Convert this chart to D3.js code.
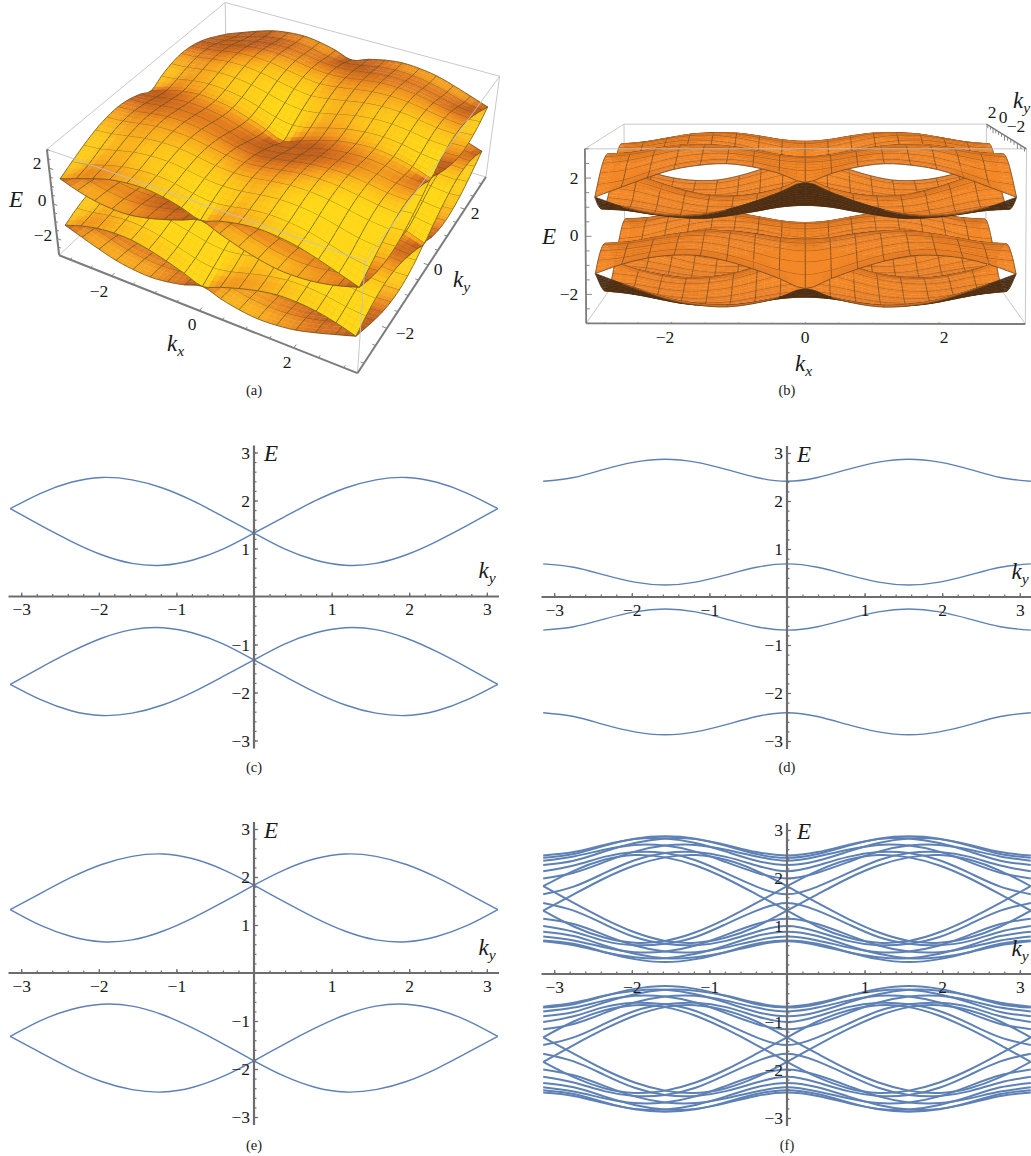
<!DOCTYPE html>
<html><head><meta charset="utf-8">
<script src="https://cdn.jsdelivr.net/npm/d3@7"></script>
<style>html,body{margin:0;padding:0;background:#fff}svg{display:block}svg text{font-family:"Liberation Serif","Times New Roman",serif !important}</style>
</head><body><div id="chart"></div>
<script>
// ---------- data ----------
const kyKnots=[-3.1416,-2.7489,-2.3562,-1.9635,-1.5708,-1.1781,-0.7854,-0.3927,0,0.3927,0.7854,1.1781,1.5708,1.9635,2.3562,2.7489,3.1416];
// panel (c): the two curves of the upper band
const cCurveA=[1.83,2.15,2.38,2.48,2.43,2.26,1.99,1.66,1.32,0.99,0.76,0.65,0.69,0.87,1.15,1.48,1.83];
const cCurveB=[1.83,1.48,1.15,0.87,0.69,0.65,0.76,0.99,1.32,1.66,1.99,2.26,2.43,2.48,2.38,2.15,1.83];
// panel (d)
const dCurveTop=[2.41,2.49,2.66,2.81,2.87,2.81,2.66,2.49,2.41,2.49,2.66,2.81,2.87,2.81,2.66,2.49,2.41];
const dCurveLow=[0.69,0.62,0.46,0.31,0.25,0.31,0.46,0.62,0.69,0.62,0.46,0.31,0.25,0.31,0.46,0.62,0.69];
// panel (e)
const eCurveA=[1.32,1.66,1.99,2.26,2.43,2.48,2.38,2.15,1.83,1.48,1.15,0.87,0.69,0.65,0.76,0.99,1.32];
const eCurveB=[1.32,0.99,0.76,0.65,0.69,0.87,1.15,1.48,1.83,2.15,2.38,2.48,2.43,2.26,1.99,1.66,1.32];
// panel (f): remaining upper / lower branches, ky from -pi to 0 (mirror images for ky>0)
const fUpper=[
[2.14,2.26,2.44,2.54,2.52,2.37,2.10,1.82,1.66],
[2.36,2.45,2.59,2.69,2.675,2.55,2.33,2.11,1.99],
[2.47,2.54,2.69,2.81,2.825,2.73,2.55,2.36,2.27],
[2.42,2.50,2.67,2.82,2.87,2.82,2.67,2.50,2.42],
[2.27,2.36,2.55,2.73,2.825,2.81,2.69,2.54,2.47],
[1.99,2.11,2.33,2.55,2.675,2.69,2.59,2.45,2.36],
[1.66,1.82,2.10,2.37,2.52,2.54,2.44,2.26,2.14]];
const fLower=[
[1.48,1.32,1.04,0.77,0.63,0.60,0.69,0.88,1.00],
[1.15,1.04,0.815,0.595,0.47,0.455,0.555,0.70,0.78],
[0.88,0.79,0.595,0.42,0.33,0.35,0.455,0.60,0.68],
[0.70,0.63,0.46,0.31,0.25,0.31,0.46,0.63,0.70],
[0.68,0.60,0.455,0.35,0.33,0.42,0.595,0.79,0.88],
[0.78,0.70,0.555,0.455,0.47,0.595,0.815,1.04,1.15],
[1.00,0.88,0.69,0.60,0.63,0.77,1.04,1.32,1.48]];
const xTickLabels=[-3,-2,-1,1,2,3];
const yTickLabels=[-3,-2,-1,1,2,3];
const tickLabels3D=[-2,0,2];

// ---------- page ----------
const W=1031,H=1156;
const svg=d3.select('#chart').append('svg').attr('width',W).attr('height',H).attr('viewBox',[0,0,W,H]);
const AXIS='#6d6d6d',LINE='#5E81B5';
const minus=v=>String(v).replace('-','\u2212');
function subLabel(g,x,y,base,sub,size){
  const t=g.append('text').attr('x',x).attr('y',y).attr('font-size',size||23).attr('font-style','italic');
  t.append('tspan').text(base);
  t.append('tspan').attr('font-size',(size||23)*0.68).attr('dy',size?size*0.24:5).text(sub);
}
function caption(x,y,s){svg.append('text').attr('x',x).attr('y',y).attr('text-anchor','middle').attr('font-size',14.5).text(s);}

// ---------- 2D panels ----------
function panel2D(cx,cy,curves,cap,capY,lw){
  const g=svg.append('g');
  const x=d3.scaleLinear().domain([-3.1416,3.1416]).range([cx-243.8,cx+243.8]);
  const y=d3.scaleLinear().domain([-3,3]).range([cy+144,cy-144]);
  const line=d3.line().x(d=>x(d[0])).y(d=>y(d[1])).curve(d3.curveNatural);
  g.append('g').selectAll('path').data(curves).join('path')
    .attr('d',c=>line(c.k.map((k,i)=>[k,c.e[i]]))).attr('fill','none').attr('stroke',LINE).attr('stroke-width',lw||1.4);
  const xMinor=d3.range(-3.2,3.21,0.2).map(v=>+v.toFixed(1)).filter(v=>Math.abs(v)>0.01&&Math.abs(v)<=3.15);
  const yMinor=d3.range(-3,3.01,0.2).map(v=>+v.toFixed(1)).filter(v=>Math.abs(v)>0.01);
  const ax=g.append('g').attr('transform',`translate(0,${cy})`);
  ax.call(d3.axisBottom(x).tickValues(xMinor).tickSize(-2.5).tickFormat(''));
  ax.selectAll('.domain').remove();
  const ax2=g.append('g').attr('transform',`translate(0,${cy})`);
  ax2.call(d3.axisBottom(x).tickValues(xTickLabels).tickSize(-4).tickPadding(0).tickFormat(minus));
  ax2.selectAll('.domain').remove();
  ax2.selectAll('text').attr('y',18.5).attr('dy',null).attr('font-size',17.5);
  const ay=g.append('g').attr('transform',`translate(${cx},0)`);
  ay.call(d3.axisRight(y).tickValues(yMinor).tickSize(2.5).tickFormat(''));
  ay.selectAll('.domain').remove();
  const ay2=g.append('g').attr('transform',`translate(${cx},0)`);
  ay2.call(d3.axisRight(y).tickValues(yTickLabels).tickSize(4).tickFormat(minus));
  ay2.selectAll('.domain').remove();
  ay2.selectAll('text').attr('x',-4).attr('dy','0.33em').attr('text-anchor','end').attr('font-size',17.5);
  g.selectAll('.tick line').attr('stroke',AXIS).attr('stroke-width',1.2);
  g.append('line').attr('x1',cx-245.5).attr('x2',cx+245).attr('y1',cy).attr('y2',cy).attr('stroke',AXIS).attr('stroke-width',2.2);
  g.append('line').attr('x1',cx).attr('x2',cx).attr('y1',cy-151).attr('y2',cy+152).attr('stroke',AXIS).attr('stroke-width',2.2);
  g.append('text').attr('x',cx+10).attr('y',cy-135.5).attr('font-size',23).attr('font-style','italic').text('E');
  subLabel(g,cx+224.5,cy-18.5,'k','y');
  caption(cx,capY,cap);
}
const both=(arrs,k)=>arrs.flatMap(e=>[{k,e},{k,e:e.map(v=>-v)}]);
const mirror=r=>r.concat(r.slice(0,8).reverse());
panel2D(254,596.5,both([cCurveA,cCurveB],kyKnots),'(c)',772);
panel2D(787,597,both([dCurveTop,dCurveLow],kyKnots),'(d)',772);
panel2D(254,973,both([eCurveA,eCurveB],kyKnots),'(e)',1150);
panel2D(787,974,both([cCurveA,cCurveB,eCurveA,eCurveB].concat(fUpper.map(mirror),fLower.map(mirror)),kyKnots),'(f)',1150,2);

// ---------- 3D panels ----------
function fitCamera(pts){ // least-squares projective camera from corner correspondences
  const A=Array.from({length:11},()=>new Array(12).fill(0));
  const addEq=(row,rhs)=>{for(let i=0;i<11;i++){for(let j=0;j<11;j++)A[i][j]+=row[i]*row[j];A[i][11]+=row[i]*rhs;}};
  pts.forEach(([X,Y,Z,sx,sy])=>{
    addEq([X,Y,Z,1,0,0,0,0,-sx*X,-sx*Y,-sx*Z],sx);
    addEq([0,0,0,0,X,Y,Z,1,-sy*X,-sy*Y,-sy*Z],sy);
  });
  for(let c=0;c<11;c++){
    let p=c;for(let r=c+1;r<11;r++)if(Math.abs(A[r][c])>Math.abs(A[p][c]))p=r;
    [A[c],A[p]]=[A[p],A[c]];
    for(let r=0;r<11;r++){if(r===c)continue;const f=A[r][c]/A[c][c];for(let j=c;j<12;j++)A[r][j]-=f*A[c][j];}
  }
  const q=A.map((r,i)=>r[11]/r[i]);
  return (X,Y,Z)=>{
    const D=q[8]*X+q[9]*Y+q[10]*Z+1;
    return [(q[0]*X+q[1]*Y+q[2]*Z+q[3])/D,(q[4]*X+q[5]*Y+q[6]*Z+q[7])/D,D];
  };
}
function catmull(a,pos){
  const n=a.length,i=Math.min(Math.floor(pos),n-2),t=pos-i;
  const p1=a[i],p2=a[i+1],p0=i>0?a[i-1]:2*p1-p2,p3=i+2<n?a[i+2]:2*p2-p1;
  return 0.5*((2*p1)+(-p0+p2)*t+(2*p0-5*p1+4*p2-p3)*t*t+(-p0+3*p1-3*p2+p3)*t*t*t);
}
function sheet(rowAt){ // 17 x 17 grid: column = kx knot, row = ky knot
  return d3.range(17).map(i=>rowAt(Math.abs(i-8)));
}
const upperRow=t=>t===0?cCurveA.map((v,j)=>Math.max(v,cCurveB[j])):t===8?eCurveA.map((v,j)=>Math.max(v,eCurveB[j])):mirror(fUpper[t-1]);
const lowerRow=t=>t===0?cCurveA.map((v,j)=>Math.min(v,cCurveB[j])):t===8?eCurveA.map((v,j)=>Math.min(v,eCurveB[j])):mirror(fLower[t-1]);
const sheets=[sheet(upperRow),sheet(lowerRow),sheet(lowerRow).map(r=>r.map(v=>-v)),sheet(upperRow).map(r=>r.map(v=>-v))];

const sxk=d3.scaleLinear().domain([-3.27,3.27]).range([-1,1]);
const sz=d3.scaleLinear().domain([-3,3]).range([-1,1]);
const FINE=3,KN=17,NF=(KN-1)*FINE;

function drawSurface(g,cam,shade,back,meshColor){
  const items=[];
  sheets.forEach(grid=>{
    const byKy=grid.map(r=>d3.range(NF+1).map(b=>catmull(r,b/FINE)));
    const F=d3.range(NF+1).map(a=>d3.range(NF+1).map(b=>catmull(byKy.map(r=>r[b]),a/FINE)));
    const kv=a=>-Math.PI+a*Math.PI/8/FINE;
    const P=F.map((col,a)=>col.map((e,b)=>cam(sxk(kv(a)),sxk(kv(b)),sz(e))));
    for(let a=0;a<NF;a++)for(let b=0;b<NF;b++){
      const q=[P[a][b],P[a+1][b],P[a+1][b+1],P[a][b+1]];
      let area=0;for(let i=0;i<4;i++){const u=q[i],v=q[(i+1)%4];area+=u[0]*v[1]-v[0]*u[1];}
      const dE_a=(F[a+1][b]+F[a+1][b+1]-F[a][b]-F[a][b+1])/2/(Math.PI/8/FINE);
      const dE_b=(F[a][b+1]+F[a+1][b+1]-F[a][b]-F[a+1][b])/2/(Math.PI/8/FINE);
      const f=0.4/6*6.545;
      const nx=-dE_a*f,ny=-dE_b*f,nl=Math.hypot(nx,ny,1);
      const n=[nx/nl,ny/nl,1/nl];
      const depth=(q[0][2]+q[1][2]+q[2][2]+q[3][2])/4;
      const color=area>0?back:shade(n,kv(a+0.5),kv(b+0.5));
      const d='M'+q.map(p=>p[0].toFixed(2)+','+p[1].toFixed(2)).join('L')+'Z';
      const mesh=[];
      const seg=(u,v)=>mesh.push('M'+u[0].toFixed(2)+','+u[1].toFixed(2)+'L'+v[0].toFixed(2)+','+v[1].toFixed(2));
      if(a%FINE===0)seg(q[0],q[3]);
      if(b%FINE===0)seg(q[0],q[1]);
      if(a===NF-1)seg(q[1],q[2]);
      if(b===NF-1)seg(q[3],q[2]);
      items.push({d,color,depth,mesh:mesh.join('')});
    }
  });
  items.sort((p,q)=>q.depth-p.depth);
  const flat=[];
  items.forEach(it=>{flat.push(it);if(it.mesh)flat.push({m:it.mesh});});
  g.selectAll('path').data(flat).join('path')
    .attr('d',d=>d.m||d.d)
    .attr('fill',d=>d.m?'none':d.color)
    .attr('stroke',d=>d.m?meshColor:d.color)
    .attr('stroke-width',d=>d.m?0.95:0.35);
}
function segment3D(g,cam,a,b,color,w){
  const p=cam(...a),q=cam(...b);
  g.append('line').attr('x1',p[0]).attr('y1',p[1]).attr('x2',q[0]).attr('y2',q[1]).attr('stroke',color).attr('stroke-width',w);
}
function ticks3D(g,cam,axis,pos,off,color){
  pos.forEach(v=>{
    const major=Number.isInteger(v/2);
    const p=axis(v);
    segment3D(g,cam,p,[p[0]+off[0]*(major?1.5:1),p[1]+off[1]*(major?1.5:1),p[2]+off[2]*(major?1.5:1)],color,0.9);
  });
}
function label3D(g,x,y,s,size){g.append('text').attr('x',x).attr('y',y).attr('text-anchor','middle').attr('font-size',size||17.5).text(s);}
const BOX='#c2c2c2',AX3='#7c7c7c';
const tickVals=d3.range(-3,3.01,0.5);

// panel (a)
(function(){
  const cam=fitCamera([[1,-1,-1,358.5,374],[-1,-1,-1,61,256],[1,1,-1,485,178.5],[-1,1,-1,225,95],
    [-1,-1,1,45,150],[1,-1,1,364,259],[1,1,1,500.7,76],[-1,1,1,226.7,4]]);
  const g=svg.append('g');
  segment3D(g,cam,[-1,1,1],[-1,-1,1],BOX,0.9);
  segment3D(g,cam,[-1,1,1],[1,1,1],BOX,0.9);
  segment3D(g,cam,[-1,1,1],[-1,1,-1],BOX,0.9);
  segment3D(g,cam,[-1,1,-1],[-1,-1,-1],BOX,0.9);
  segment3D(g,cam,[-1,1,-1],[1,1,-1],BOX,0.9);
  segment3D(g,cam,[1,1,-1],[1,1,1],BOX,0.9);
  const col=d3.scaleLinear().domain([0.5,0.6,0.7,0.8,0.9]).range(['#bf5f20','#e07a20','#f5a020','#fdc31c','#ffd81a']).clamp(true);
  const d=[0.30,-0.62,0.72];
  const shade=(n,kx,ky)=>col(n[0]*d[0]+n[1]*d[1]+n[2]*d[2]+0.012*kx-0.012*ky);
  drawSurface(svg.append('g'),cam,shade,'#b5621f','rgba(80,70,30,0.72)');
  const f=svg.append('g');
  segment3D(f,cam,[-1,-1,1],[1,-1,1],BOX,0.9);
  segment3D(f,cam,[1,-1,1],[1,1,1],BOX,0.9);
  segment3D(f,cam,[1,-1,1],[1,-1,-1],BOX,0.9);
  ticks3D(f,cam,v=>[sxk(v),-1,-1],tickVals,[0,0.02,0],AX3);
  ticks3D(f,cam,v=>[1,sxk(v),-1],tickVals,[-0.02,0,0],AX3);
  ticks3D(f,cam,v=>[-1,-1,sz(v)],tickVals,[0.02,0,0],AX3);
  segment3D(f,cam,[-1,-1,-1],[1,-1,-1],AX3,2);
  segment3D(f,cam,[1,-1,-1],[1,1,-1],AX3,2);
  segment3D(f,cam,[-1,-1,1],[-1,-1,-1],AX3,2);
  [[99,296.5],[192,329.5],[287,367.5]].forEach((p,i)=>label3D(f,p[0],p[1],minus(tickLabels3D[i])));
  [[405,338.5],[438,274.5],[475,218.5]].forEach((p,i)=>label3D(f,p[0],p[1],minus(tickLabels3D[i])));
  [[43,240.5],[42,205.5],[37,168.5]].forEach((p,i)=>label3D(f,p[0],p[1],minus(tickLabels3D[i])));
  f.append('text').attr('x',9).attr('y',207).attr('font-size',23).attr('font-style','italic').text('E');
  subLabel(f,167,351,'k','x');
  subLabel(f,453,287,'k','y');
  caption(254,395,'(a)');
})();

// panel (b)
(function(){
  const cam=fitCamera([[-1,-1,-1,586,323],[1,-1,-1,1025,324],[-1,-1,1,585,149],[1,-1,1,1027,149],
    [-1,1,1,624,124],[1,1,1,986,124],[-1,1,-1,625,268],[1,1,-1,986,268]]);
  const g=svg.append('g');
  segment3D(g,cam,[-1,1,1],[1,1,1],BOX,0.9);
  segment3D(g,cam,[-1,1,1],[-1,-1,1],BOX,0.9);
  segment3D(g,cam,[-1,1,1],[-1,1,-1],BOX,0.9);
  segment3D(g,cam,[1,1,1],[1,1,-1],BOX,0.9);
  segment3D(g,cam,[-1,1,-1],[-1,-1,-1],BOX,0.9);
  segment3D(g,cam,[1,1,-1],[1,-1,-1],BOX,0.9);
  segment3D(g,cam,[-1,1,-1],[1,1,-1],BOX,0.9);
  const col=d3.scaleLinear().domain([0.02,0.2,0.42,0.7]).range(['#6a4019','#a9602a','#de7726','#f48827']).clamp(true);
  const d=[0,-0.88,0.47];
  const shade=n=>col(n[0]*d[0]+n[1]*d[1]+n[2]*d[2]);
  drawSurface(svg.append('g'),cam,shade,'#4a2d14','rgba(85,60,35,0.72)');
  const f=svg.append('g');
  segment3D(f,cam,[-1,-1,1],[1,-1,1],BOX,0.9);
  segment3D(f,cam,[1,-1,1],[1,-1,-1],BOX,0.9);
  ticks3D(f,cam,v=>[sxk(v),-1,-1],tickVals,[0,0.03,0],AX3);
  ticks3D(f,cam,v=>[-1,-1,sz(v)],tickVals,[0.018,0,0],AX3);
  ticks3D(f,cam,v=>[1,sxk(v),1],tickVals,[0,0,-0.045],AX3);
  segment3D(f,cam,[-1,-1,-1],[1,-1,-1],AX3,1.8);
  segment3D(f,cam,[-1,-1,1],[-1,-1,-1],AX3,1.8);
  segment3D(f,cam,[1,-1,1],[1,1,1],AX3,1.4);
  [[665,343],[805,343],[944,343]].forEach((p,i)=>label3D(f,p[0],p[1],minus(tickLabels3D[i])));
  [[569,299.5],[574,240.5],[574,183.5]].forEach((p,i)=>label3D(f,p[0],p[1],minus(tickLabels3D[i])));
  [[1016,132],[1003,123],[992,118]].forEach((p,i)=>label3D(f,p[0],p[1],minus(tickLabels3D[i])));
  f.append('text').attr('x',542).attr('y',244).attr('font-size',23).attr('font-style','italic').text('E');
  subLabel(f,795,371,'k','x');
  subLabel(f,1013,108,'k','y');
  caption(787,395,'(b)');
})();
svg.selectAll('text').style('fill','#1a1a1a');
</script></body></html>
